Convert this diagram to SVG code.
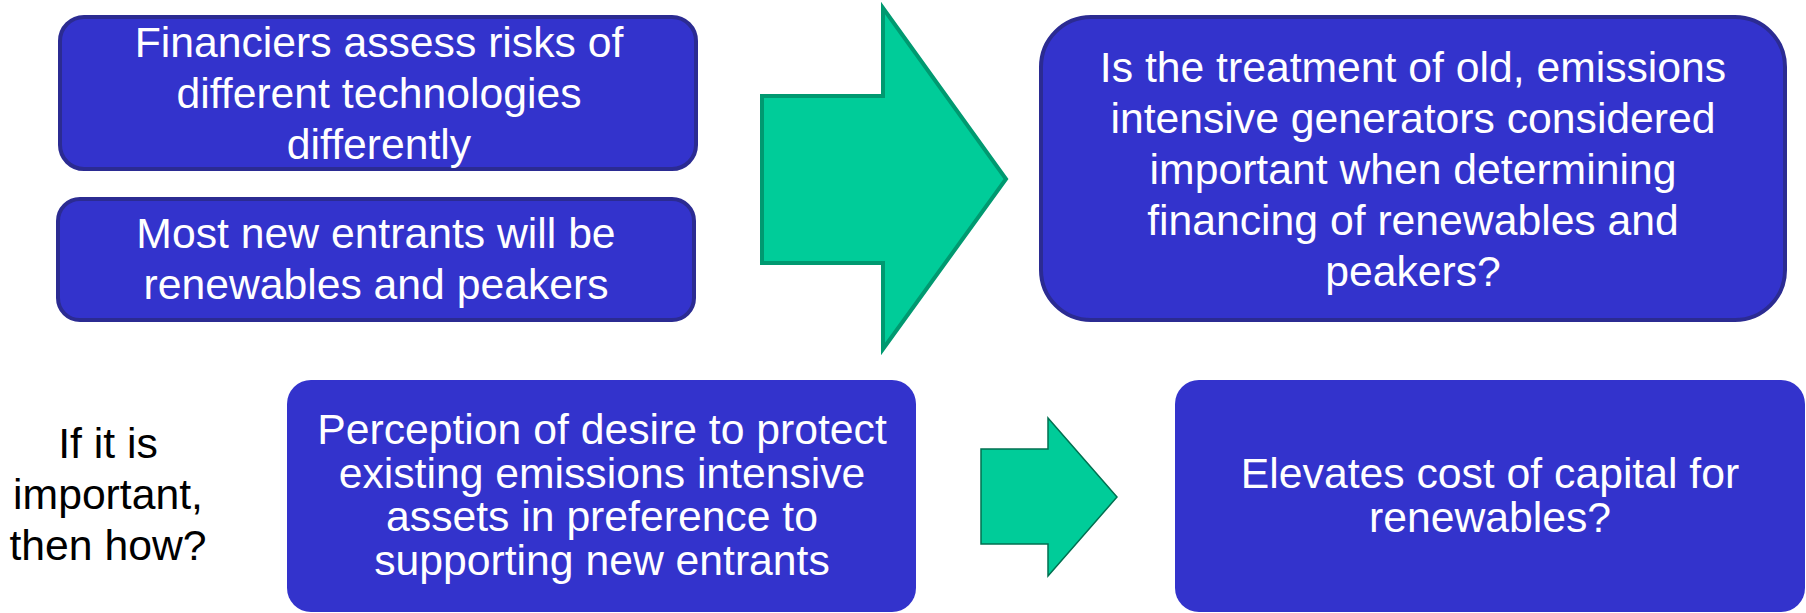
<svg xmlns="http://www.w3.org/2000/svg" width="1806" height="613" viewBox="0 0 1806 613">
<style>
.box{fill:#3333CC;}
.bs{stroke:#2B2B92;stroke-width:4;}
.t{font-family:"Liberation Sans",Arial,sans-serif;font-size:42.7px;fill:#FFFFFF;text-anchor:middle;}
.tk{font-family:"Liberation Sans",Arial,sans-serif;font-size:42.7px;fill:#000000;text-anchor:middle;}
.arrow{fill:#00CC99;}
</style>
<rect width="1806" height="613" fill="#FFFFFF"/>
<g id="connectors">
<polygon id="bigArrow" class="arrow" stroke="#009970" stroke-width="4" points="762,96 883,96 883,8 1006,179 883,349 883,263 762,263"/>
<polygon id="smallArrow" class="arrow" stroke="#007050" stroke-width="1.5" points="981,449 1048,449 1048,418 1117,497 1048,576 1048,544 981,544"/>
</g>
<g id="node-financiers">
<rect class="box bs" x="60" y="17" width="636" height="152" rx="24"/>
<text class="t" x="379" y="57">Financiers assess risks of</text>
<text class="t" x="379" y="108">different technologies</text>
<text class="t" x="379" y="159">differently</text>
</g>
<g id="node-entrants">
<rect class="box bs" x="58" y="199" width="636" height="121" rx="22"/>
<text class="t" x="376" y="248">Most new entrants will be</text>
<text class="t" x="376" y="299">renewables and peakers</text>
</g>
<g id="node-question">
<rect class="box bs" x="1041" y="17" width="744" height="303" rx="50"/>
<text class="t" x="1413" y="82">Is the treatment of old, emissions</text>
<text class="t" x="1413" y="133">intensive generators considered</text>
<text class="t" x="1413" y="184">important when determining</text>
<text class="t" x="1413" y="235">financing of renewables and</text>
<text class="t" x="1413" y="286">peakers?</text>
</g>
<g id="node-ifimportant">
<text class="tk" x="108" y="458">If it is</text>
<text class="tk" x="108" y="509">important,</text>
<text class="tk" x="108" y="560">then how?</text>
</g>
<g id="node-perception">
<rect class="box" x="287" y="380" width="629" height="232" rx="24"/>
<text class="t" x="602" y="444">Perception of desire to protect</text>
<text class="t" x="602" y="487.5">existing emissions intensive</text>
<text class="t" x="602" y="531">assets in preference to</text>
<text class="t" x="602" y="574.5">supporting new entrants</text>
</g>
<g id="node-elevates">
<rect class="box" x="1175" y="380" width="630" height="232" rx="24"/>
<text class="t" x="1490" y="488">Elevates cost of capital for</text>
<text class="t" x="1490" y="532">renewables?</text>
</g>
</svg>
